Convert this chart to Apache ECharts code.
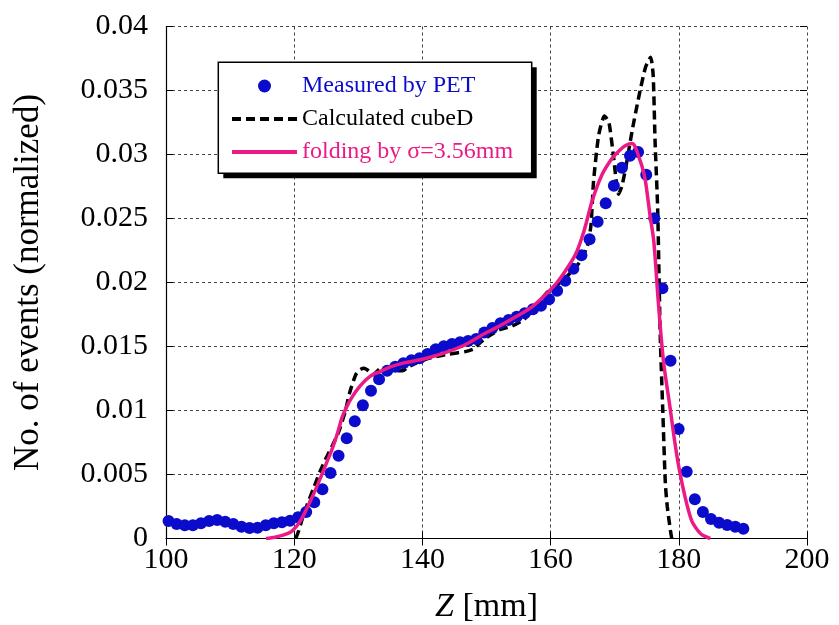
<!DOCTYPE html>
<html>
<head>
<meta charset="utf-8">
<title>Depth profile of annihilation events</title>
<script src="https://cdn.jsdelivr.net/npm/echarts@6/dist/echarts.min.js"></script>
<style>
  html, body { margin: 0; padding: 0; background: #fff; }
  #chart { width: 839px; height: 625px; }
</style>
</head>
<body>
<div id="chart"></div>
<script>
// Measured PET profile (bin centres in mm, normalized counts)
const zMeasured = [
  100.40, 101.66, 102.93, 104.19, 105.45, 106.72, 107.98, 109.24, 110.50, 111.77,
  113.03, 114.29, 115.56, 116.82, 118.08, 119.35, 120.61, 121.87, 123.13, 124.40,
  125.66, 126.92, 128.19, 129.45, 130.71, 131.98, 133.24, 134.50, 135.76, 137.03,
  138.29, 139.55, 140.82, 142.08, 143.34, 144.61, 145.87, 147.13, 148.39, 149.66,
  150.92, 152.18, 153.45, 154.71, 155.97, 157.24, 158.50, 159.76, 161.02, 162.29,
  163.55, 164.81, 166.08, 167.34, 168.60, 169.87, 171.13, 172.39, 173.65, 174.92,
  176.18, 177.44, 178.71, 179.97, 181.23, 182.50, 183.76, 185.02, 186.28, 187.55,
  188.81, 190.07
];
const yMeasured = [
  0.00137, 0.00113, 0.00103, 0.00103, 0.00119, 0.00137, 0.00145, 0.00131, 0.00113, 0.00092,
  0.00082, 0.00084, 0.00103, 0.00119, 0.00127, 0.00139, 0.00166, 0.00207, 0.00283, 0.00384,
  0.00512, 0.00647, 0.00783, 0.00916, 0.01041, 0.01155, 0.01244, 0.01311, 0.01342, 0.01369,
  0.01392, 0.01408, 0.01441, 0.01478, 0.01502, 0.01520, 0.01533, 0.01543, 0.01559, 0.01610,
  0.01645, 0.01681, 0.01707, 0.01733, 0.01759, 0.01791, 0.01819, 0.01869, 0.01936, 0.02014,
  0.02108, 0.02213, 0.02337, 0.02475, 0.02619, 0.02756, 0.02897, 0.02991, 0.03020, 0.02842,
  0.02502, 0.01955, 0.01389, 0.00855, 0.00522, 0.00306, 0.00207, 0.00152, 0.00123, 0.00105,
  0.00092, 0.00077
];

// cubeD calculation
const zCalc = [
  120.25, 120.7, 121.3, 122.0, 123.0, 124.0, 125.0, 126.0, 127.0, 128.0,
  128.6, 129.6, 130.3, 130.9, 131.6, 132.3, 132.8, 133.5, 134.5, 135.5,
  136.9, 137.8, 139.0, 140.5, 142.0, 144.0, 146.7, 148.0, 148.8, 150.0,
  152.0, 154.0, 155.8, 157.5, 159.4, 161.0, 162.8, 164.4, 165.7, 166.3,
  166.7, 167.5, 168.4, 169.1, 169.8, 170.6, 171.1, 171.7, 172.7, 173.8,
  174.8, 175.6, 176.0, 176.3, 176.7, 177.1, 177.5, 177.9, 178.2, 178.7, 178.9
];
const yCalc = [
  0.0000, 0.0006, 0.0016, 0.0026, 0.0039, 0.0052, 0.0063, 0.0073, 0.0084, 0.0100,
  0.0113, 0.0128, 0.0132, 0.0133, 0.0131, 0.0128, 0.0130, 0.0133, 0.0132, 0.0131,
  0.0131, 0.0134, 0.0137, 0.0140, 0.0142, 0.0144, 0.0146, 0.0148, 0.0152, 0.0157,
  0.0163, 0.0166, 0.0171, 0.0180, 0.0192, 0.0198, 0.0206, 0.0215, 0.0228, 0.0245,
  0.0279, 0.0315, 0.0330, 0.0325, 0.0299, 0.0269, 0.0275, 0.0289, 0.0318, 0.0346,
  0.0368, 0.0376, 0.0362, 0.0310, 0.0258, 0.0159, 0.0100, 0.0043, 0.0025, 0.0006, 0.0000
];

// cubeD folded with a Gaussian resolution, sigma = 3.56 mm
const zFold = [
  115.6, 117.0, 118.5, 119.7, 121.0, 122.3, 123.4, 124.4, 125.2, 126.0,
  126.8, 127.5, 128.3, 129.1, 130.1, 131.2, 132.2, 133.2, 135.0, 137.0,
  139.0, 141.5, 144.0, 146.5, 149.3, 152.0, 154.5, 157.1, 159.7, 161.0,
  162.3, 163.9, 165.2, 166.5, 168.0, 169.6, 170.7, 171.7, 172.7, 173.2,
  173.7, 174.3, 174.8, 175.5, 176.1, 176.8, 177.6, 178.7, 179.3, 180.0,
  181.0, 182.0, 183.0, 183.6, 184.9
];
const yFold = [
  0.0000, 0.0001, 0.0003, 0.0006, 0.0014, 0.0027, 0.0039, 0.0051, 0.0061, 0.0071,
  0.0083, 0.0095, 0.0104, 0.0111, 0.0118, 0.0124, 0.0128, 0.0130, 0.0134, 0.0137,
  0.0139, 0.0142, 0.0146, 0.0151, 0.0159, 0.0166, 0.0173, 0.0181, 0.0193, 0.0200,
  0.0209, 0.0222, 0.0240, 0.0264, 0.0284, 0.0297, 0.0303, 0.0307, 0.03085, 0.0306,
  0.0299, 0.0290, 0.0279, 0.0253, 0.0232, 0.0185, 0.0139, 0.0100, 0.0078, 0.0056,
  0.0032, 0.0014, 0.0006, 0.0003, 0.0000
];

const seriesNames = ['Measured by PET', 'Calculated cubeD', 'folding by \u03c3=3.56mm'];

const zip = (xs, ys) => xs.map((x, i) => [x, ys[i]]);

const SERIF = "'Liberation Serif', 'Times New Roman', serif";
const BLUE = '#0b0bcc';
const PINK = '#ec1a86';

const gridLine = { show: true, lineStyle: { color: '#444', width: 1, type: [3, 3] } };
const innerTick = { show: true, inside: true, length: 7, lineStyle: { color: '#000', width: 1 } };
// line entries in the legend show only their stroke, no marker
const noMarker = { color: 'rgba(0,0,0,0)', borderWidth: 0, opacity: 0 };

// legend frame with a hard drop shadow
const boxX = 218.3, boxY = 62.3, boxW = 313.4, boxH = 111, shadow = 5;

const chart = echarts.init(document.getElementById('chart'), null, { renderer: 'canvas' });

chart.setOption({
  animation: false,
  backgroundColor: '#fff',
  grid: {
    left: 166, top: 26.5, right: 32, bottom: 86.5,
    containLabel: false,
    outerBoundsMode: 'none'
  },
  graphic: [
    {
      type: 'rect', z: 8, silent: true,
      shape: { x: boxX + shadow, y: boxY + shadow, width: boxW, height: boxH },
      style: { fill: '#000' }
    },
    {
      type: 'rect', z: 9, silent: true,
      shape: { x: boxX, y: boxY, width: boxW, height: boxH },
      style: { fill: '#fff', stroke: '#000', lineWidth: 1.5 }
    }
  ],
  legend: {
    z: 12,
    orient: 'vertical',
    left: 218,
    top: 62,
    padding: [12, 15, 10, 12],
    itemWidth: 65,
    itemHeight: 13,
    itemGap: 9,
    lineStyle: { width: 4 },
    textStyle: { fontFamily: SERIF, fontSize: 24 },
    data: [
      { name: seriesNames[0], textStyle: { color: BLUE } },
      { name: seriesNames[1], textStyle: { color: '#000' }, itemStyle: noMarker },
      { name: seriesNames[2], textStyle: { color: PINK }, itemStyle: noMarker }
    ]
  },
  xAxis: [
    {
      type: 'value', min: 100, max: 200, interval: 20,
      name: '{i|Z} [mm]',
      nameLocation: 'middle',
      nameGap: 52,
      nameTextStyle: {
        fontFamily: SERIF, fontSize: 34, color: '#000',
        rich: { i: { fontFamily: SERIF, fontSize: 34, fontStyle: 'italic', color: '#000' } }
      },
      axisLine: { show: true, onZero: false, lineStyle: { color: '#000', width: 1.2 } },
      axisTick: innerTick,
      axisLabel: { fontFamily: SERIF, fontSize: 30, color: '#000', margin: 7 },
      splitLine: gridLine
    },
    {
      type: 'value', min: 100, max: 200, interval: 20, position: 'top',
      axisLine: { show: false },
      axisTick: innerTick,
      axisLabel: { show: false },
      splitLine: { show: false }
    }
  ],
  yAxis: [
    {
      type: 'value', min: 0, max: 0.04, interval: 0.005,
      name: 'No. of events (normalized)',
      nameLocation: 'middle',
      nameGap: 120,
      nameTextStyle: { fontFamily: SERIF, fontSize: 35, color: '#000' },
      axisLine: { show: true, onZero: false, lineStyle: { color: '#000', width: 1.2 } },
      axisTick: innerTick,
      axisLabel: { fontFamily: SERIF, fontSize: 30, color: '#000', margin: 18 },
      splitLine: gridLine
    },
    {
      type: 'value', min: 0, max: 0.04, interval: 0.005, position: 'right',
      axisLine: { show: false },
      axisTick: innerTick,
      axisLabel: { show: false },
      splitLine: { show: false }
    }
  ],
  series: [
    {
      name: seriesNames[1],
      type: 'line',
      data: zip(zCalc, yCalc),
      smooth: 0.2,
      symbol: 'none',
      z: 2,
      lineStyle: { color: '#000', width: 3.5, type: [9, 5] },
      itemStyle: { color: '#000' }
    },
    {
      name: seriesNames[0],
      type: 'scatter',
      data: zip(zMeasured, yMeasured),
      symbol: 'circle',
      symbolSize: 12,
      z: 3,
      itemStyle: { color: BLUE, opacity: 1 }
    },
    {
      name: seriesNames[2],
      type: 'line',
      data: zip(zFold, yFold),
      smooth: 0.3,
      symbol: 'none',
      z: 4,
      lineStyle: { color: PINK, width: 3.5 },
      itemStyle: { color: PINK }
    }
  ]
});
</script>
</body>
</html>
